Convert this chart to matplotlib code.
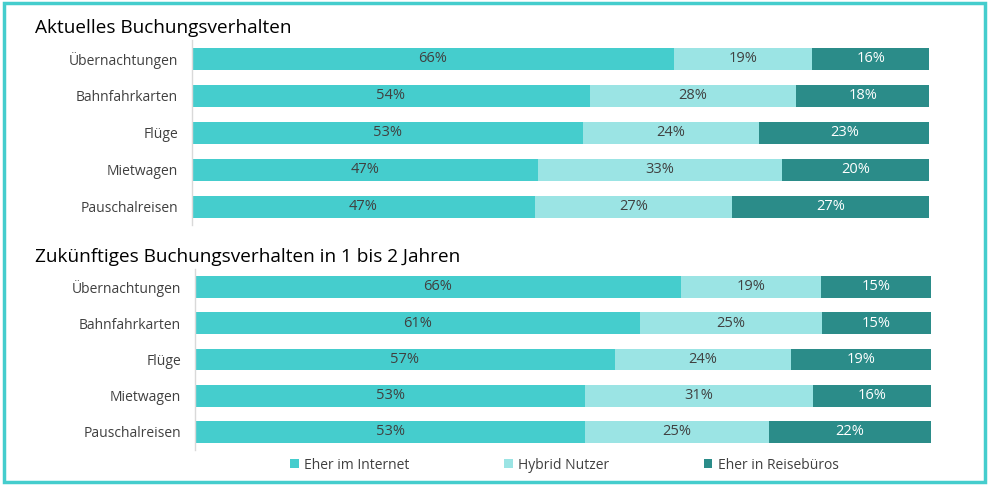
import matplotlib.pyplot as plt
import numpy as np
from matplotlib.patches import Rectangle, Patch

plt.rcParams['font.family'] = ['Open Sans', 'DejaVu Sans']

categories = ["Übernachtungen", "Bahnfahrkarten", "Flüge", "Mietwagen", "Pauschalreisen"]
series_names = ["Eher im Internet", "Hybrid Nutzer", "Eher in Reisebüros"]

# aktuelles Buchungsverhalten
now_internet = [66, 54, 53, 47, 47]
now_hybrid = [19, 28, 24, 33, 27]
now_agency = [16, 18, 23, 20, 27]

# in 1 bis 2 Jahren
fut_internet = [66, 61, 57, 53, 53]
fut_hybrid = [19, 25, 24, 31, 25]
fut_agency = [15, 15, 19, 16, 22]

colors = ["#45CDCD", "#9BE4E4", "#2B8C89"]
text_colors = ["#404040", "#404040", "white"]

fig = plt.figure(figsize=(9.92, 4.87), dpi=100)


def draw_panel(ax, series):
    data = np.array(series, dtype=float)
    totals = data.sum(axis=0)
    shares = data / totals  # 100% stacked
    y = np.arange(len(categories))
    left = np.zeros(len(categories))
    for vals, shr, col, tc in zip(data, shares, colors, text_colors):
        ax.barh(y, shr, left=left, height=0.6, color=col, edgecolor="none")
        for yi, l, w, v in zip(y, left, shr, vals):
            ax.text(l + w / 2, yi, f"{int(v)}%", ha="center", va="center",
                    fontsize=10.5, color=tc)
        left = left + shr
    ax.set_xlim(0, 1)
    ax.set_ylim(len(categories) - 0.5, -0.5)
    ax.set_yticks(y)
    ax.set_yticklabels(categories, fontsize=10, color="#404040")
    ax.tick_params(axis="y", length=0, pad=10)
    ax.set_xticks([])
    for s in ["top", "right", "bottom"]:
        ax.spines[s].set_visible(False)
    ax.spines["left"].set_color("#D9D9D9")
    ax.spines["left"].set_linewidth(1)


ax1 = fig.add_axes([0.1935, 0.537, 0.743, 0.380])
draw_panel(ax1, [now_internet, now_hybrid, now_agency])
ax2 = fig.add_axes([0.1966, 0.076, 0.742, 0.372])
draw_panel(ax2, [fut_internet, fut_hybrid, fut_agency])

fig.text(35 / 992, 0.942, "Aktuelles Buchungsverhalten", fontsize=13.7,
         ha="left", va="center", color="black")
fig.text(35 / 992, 0.473, "Zukünftiges Buchungsverhalten in 1 bis 2 Jahren",
         fontsize=13.7, ha="left", va="center", color="black")

handles = [Patch(facecolor=c, edgecolor="none") for c in colors]
fig.legend(handles, series_names, loc="center", bbox_to_anchor=(0.569, 0.045),
           ncol=3, frameon=False, fontsize=10, handlelength=0.6,
           handleheight=0.6, handletextpad=0.4, columnspacing=6.8,
           labelcolor="#404040")

# teal frame around the whole chart
fig.patches.append(Rectangle((4 / 992, 5 / 487), 981 / 992, 479 / 487,
                             transform=fig.transFigure, fill=False,
                             edgecolor="#45CDCD", linewidth=2.5))

fig.savefig("out.png", dpi=100)
